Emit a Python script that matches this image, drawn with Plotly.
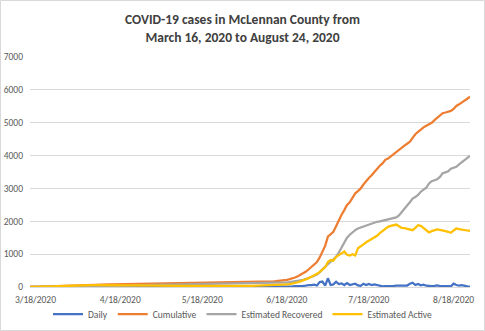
import pandas as pd
import plotly.graph_objects as go

start_date = "2020-03-16"

daily = [
    1, 0, 1, 2, 2, 2, 2, 3, 3, 4, 4, 4, 5, 5, 5, 5,
    4, 4, 4, 3, 3, 2, 2, 2, 2, 2, 2, 1, 1, 1, 1, 1, 1, 0, 1, 1, 1, 1, 0, 1, 1, 1, 1, 1, 1, 1,
    1, 1, 2, 1, 1, 2, 1, 1, 2, 1, 1, 1, 2, 1, 1, 1, 2, 1, 1, 1, 1, 2, 1, 1, 1, 1, 1, 1, 2, 1, 1,
    1, 2, 2, 2, 2, 3, 2, 3, 3, 3, 4, 5, 5, 6, 8, 8, 11, 17, 20, 22, 28, 25, 25, 35, 40, 60, 55, 70, 45, 150,
    165, 40, 265, 60, 80, 160, 90, 110, 60, 120, 60, 90, 100, 50, 35, 100, 60, 90, 60, 80, 60, 30, 20, 25, 20, 20, 30, 40, 45, 40, 40,
    45, 100, 130, 60, 90, 50, 70, 40, 30, 25, 35, 50, 30, 35, 25, 30, 20, 100, 60, 45, 55, 30, 20, 10,
]

cumulative = [
    1, 1, 2, 4, 6, 8, 10, 13, 16, 20, 24, 28, 33, 38, 43, 48,
    52, 56, 60, 63, 66, 68, 70, 72, 74, 76, 78, 79, 80, 81, 82, 83, 84, 84, 85, 86, 87, 88, 88, 89, 90, 91, 92, 93, 94, 95,
    96, 97, 99, 100, 101, 103, 104, 105, 107, 108, 109, 110, 112, 113, 114, 115, 117, 118, 119, 120, 121, 123, 124, 125, 126, 127, 128, 129, 131, 132, 133,
    134, 136, 138, 140, 142, 145, 147, 150, 153, 156, 160, 165, 170, 176, 184, 192, 203, 220, 240, 262, 290, 330, 372, 420, 470, 540, 610, 680, 760, 900,
    1060, 1250, 1530, 1600, 1680, 1850, 2040, 2200, 2340, 2500, 2580, 2720, 2850, 2920, 3000, 3120, 3230, 3320, 3400, 3500, 3620, 3690, 3760, 3870, 3910, 3980, 4050, 4100, 4170, 4230, 4300,
    4360, 4420, 4540, 4650, 4720, 4800, 4860, 4910, 4960, 5000, 5080, 5160, 5240, 5290, 5310, 5330, 5360, 5420, 5510, 5560, 5610, 5670, 5730, 5790,
]

recovered = [
    0, 0, 0, 0, 0, 0, 0, 0, 0, 0, 0, 0, 0, 0, 0, 0,
    0, 0, 2, 4, 6, 8, 10, 13, 16, 19, 22, 25, 28, 31, 34, 37, 40, 43, 46, 48, 50, 52, 54, 56, 58, 60, 62, 63, 64, 65,
    66, 67, 68, 70, 71, 72, 73, 75, 76, 77, 78, 80, 81, 82, 83, 85, 86, 87, 88, 90, 91, 92, 93, 94, 95, 96, 97, 98, 99, 100, 101,
    102, 103, 104, 105, 106, 107, 108, 109, 110, 112, 114, 116, 119, 122, 126, 130, 136, 142, 150, 160, 172, 186, 200, 220, 245, 270, 300, 340, 380, 440,
    540, 620, 700, 760, 830, 920, 1050, 1200, 1380, 1500, 1590, 1670, 1730, 1780, 1810, 1850, 1870, 1890, 1920, 1960, 1985, 2000, 2020, 2040, 2060, 2080, 2100, 2120, 2180, 2270, 2380,
    2480, 2580, 2690, 2740, 2800, 2900, 2960, 3020, 3150, 3220, 3250, 3280, 3350, 3460, 3490, 3520, 3600, 3620, 3660, 3730, 3790, 3850, 3920, 3990,
]

active = [
    1, 1, 2, 4, 6, 8, 10, 13, 16, 20, 24, 28, 33, 38, 43, 48,
    52, 56, 58, 59, 60, 60, 60, 59, 58, 57, 56, 54, 52, 50, 48, 46, 44, 41, 39, 38, 37, 36, 34, 33, 32, 31, 30, 30, 30, 30,
    30, 30, 31, 30, 30, 31, 31, 30, 31, 31, 31, 30, 31, 31, 31, 30, 31, 31, 31, 30, 30, 31, 31, 31, 31, 31, 31, 31, 32, 32, 32,
    32, 33, 34, 35, 36, 38, 39, 41, 43, 44, 46, 49, 51, 54, 58, 62, 67, 78, 90, 102, 118, 144, 172, 200, 225, 270, 310, 350, 400, 460,
    520, 600, 760, 820, 800, 920, 970, 1020, 1080, 980, 960, 1000, 960, 1180, 1230, 1300, 1360, 1410, 1450, 1500, 1560, 1640, 1700, 1780, 1830, 1860, 1880, 1900, 1850, 1800, 1790,
    1770, 1740, 1730, 1800, 1880, 1860, 1790, 1720, 1660, 1700, 1720, 1750, 1740, 1710, 1700, 1680, 1650, 1720, 1780, 1760, 1740, 1730, 1720, 1710,
]

tick_dates = ["2020-03-18", "2020-04-18", "2020-05-18", "2020-06-18", "2020-07-18", "2020-08-18"]
tick_labels = ["3/18/2020", "4/18/2020", "5/18/2020", "6/18/2020", "7/18/2020", "8/18/2020"]
y_ticks = [0, 1000, 2000, 3000, 4000, 5000, 6000, 7000]

series_names = ["Daily", "Cumulative", "Estimated Recovered", "Estimated Active"]
series_colors = ["#4472C4", "#ED7D31", "#A5A5A5", "#FFC000"]

dates = pd.date_range(start_date, periods=len(cumulative), freq="D")

FONT = "Carlito, Lato, sans-serif"

fig = go.Figure()
for name, vals, col in zip(series_names, [daily, cumulative, recovered, active], series_colors):
    fig.add_trace(go.Scatter(x=dates, y=vals, mode="lines", name=name,
                             line=dict(color=col, width=2.25)))

W, H = 485, 331
L, R, T, B = 30, 15, 57, 44
pw, ph = W - L - R, H - T - B

fig.update_layout(
    width=W, height=H,
    margin=dict(l=L, r=R, t=T, b=B, autoexpand=False),
    paper_bgcolor="white", plot_bgcolor="white",
    font=dict(family=FONT, color="#595959", size=9),
    title=dict(
        text="<b>COVID-19 cases in McLennan County from<br>March 16, 2020 to August 24, 2020</b>",
        x=0.5, xanchor="center", y=1 - 24 / H, yanchor="middle",
        font=dict(family=FONT, size=13.5, color="#404040"),
    ),
    xaxis=dict(
        range=[dates[0], dates[-1]],
        tickmode="array", tickvals=tick_dates, ticktext=tick_labels,
        showgrid=False, showline=True, linecolor="#D9D9D9", linewidth=1,
        ticks="", zeroline=False, tickfont=dict(size=9.5, color="#595959"),
        ticklabelstandoff=4,
    ),
    yaxis=dict(
        range=[0, 7000], tickmode="array", tickvals=y_ticks,
        showgrid=True, gridcolor="#D9D9D9", gridwidth=1,
        zeroline=False, showline=False, ticks="",
        tickfont=dict(size=9.5, color="#595959"), ticklabelstandoff=6,
    ),
    legend=dict(
        orientation="h", x=(243 - L) / pw, xanchor="center",
        y=-(314 - (H - B)) / ph, yanchor="middle",
        font=dict(size=9.5, color="#595959"), bgcolor="rgba(0,0,0,0)",
        itemwidth=30, tracegroupgap=0,
    ),
    showlegend=True,
    shapes=[dict(
        type="rect", xref="paper", yref="paper",
        x0=(0.5 - L) / pw, x1=(W - 0.5 - L) / pw,
        y0=-(B - 0.5) / ph, y1=1 + (T - 0.5) / ph,
        line=dict(color="#D9D9D9", width=1), layer="below",
    )],
)

fig.write_html("out.html")
